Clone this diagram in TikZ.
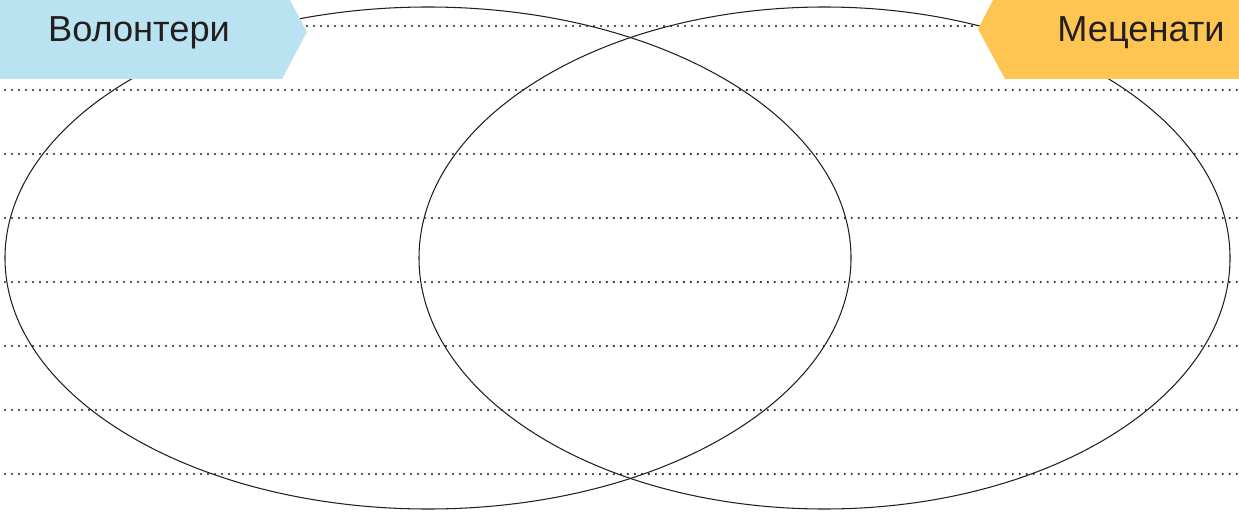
\documentclass[tikz,border=0pt]{standalone}
\usepackage{fontspec}
\setmainfont{Liberation Sans}
\usetikzlibrary{positioning}
\definecolor{TagBlue}{RGB}{185,227,240}
\definecolor{TagYellow}{RGB}{254,197,82}
\definecolor{InkGray}{RGB}{35,31,32}

\tikzset{
  writeline/.style={InkGray,line width=1.3pt,line cap=round,dash pattern=on 0pt off 0.14cm},
  setring/.style={InkGray,line width=0.6pt},
  tagtext/.style={inner sep=0pt,text=InkGray,font=\fontsize{20.6}{24}\selectfont}
}

\begin{document}
\begin{tikzpicture}[x=0.02cm,y=0.02cm]
  \useasboundingbox (0,0) rectangle (1239,511);
  % lines to write on
  \draw[writeline] (307,485)--(978,485);
  \foreach \y in {421,357,293,229,165,101,37}
    \draw[writeline] (5,\y)--(1239,\y);
  % the two sets
  \draw[setring] (428,253) ellipse (423 and 251);
  \draw[setring] (824.5,253) ellipse (405.5 and 251);
  % labels
  \fill[TagBlue] (0,511)--(290,511)--(307,479)--(282,432)--(0,432)--cycle;
  \fill[TagYellow] (1239,511)--(993,511)--(978,482)--(1005,432)--(1239,432)--cycle;
  \node[tagtext] (vol) at (139,478) {Волонтери};
  \node[tagtext] (mec) at (1141,478) {Меценати};
\end{tikzpicture}
\end{document}
